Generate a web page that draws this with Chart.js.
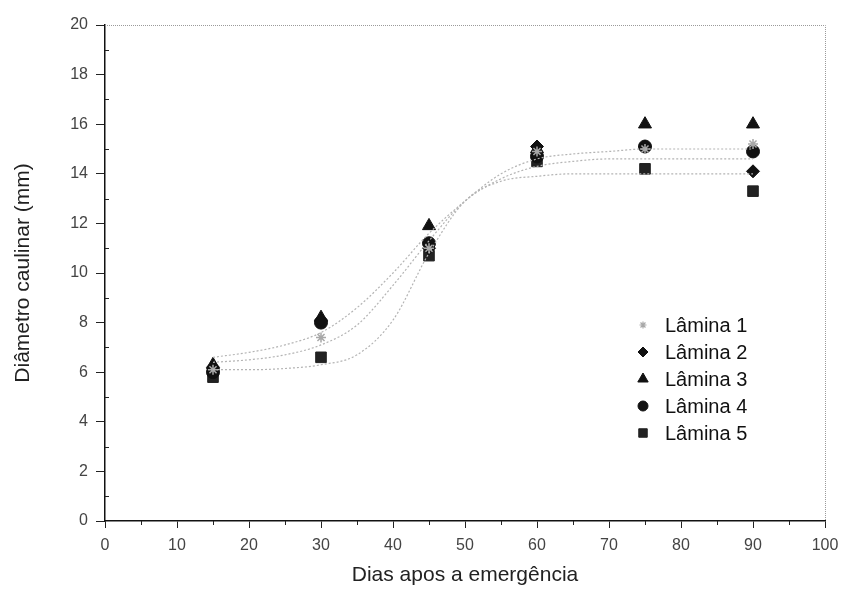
<!DOCTYPE html>
<html>
<head>
<meta charset="utf-8">
<script src="https://cdn.jsdelivr.net/npm/chart.js@4/dist/chart.umd.min.js"></script>
<style>
  html, body { margin: 0; padding: 0; background: #fff; }
  #wrap { width: 851px; height: 590px; }
</style>
</head>
<body>
<div id="wrap"><canvas id="myChart"></canvas></div>
<script>
/* Data */

const days = [15, 30, 45, 60, 75, 90];
const lamina1 = [6.1, 7.4, 11.0, 14.9, 15.0, 15.2];
const lamina2 = [6.2, 8.1, 11.0, 15.1, 15.1, 14.1];
const lamina3 = [6.3, 8.2, 11.9, 15.0, 16.0, 16.0];
const lamina4 = [6.0, 8.0, 11.2, 14.7, 15.1, 14.9];
const lamina5 = [5.8, 6.6, 10.7, 14.5, 14.2, 13.3];

// fitted curves, read at these days
const curveDays = [15, 20, 25, 30, 35, 40, 45, 50, 55, 60, 65, 70, 75, 80, 85, 90];
const curveUpper = [6.6, 6.8, 7.1, 7.6, 8.6, 10.0, 11.6, 12.9, 14.0, 14.6, 14.8, 14.9, 15.0, 15.0, 15.0, 15.0];
const curveMiddle = [6.4, 6.5, 6.7, 7.1, 7.9, 9.5, 11.3, 12.9, 13.8, 14.3, 14.5, 14.6, 14.6, 14.6, 14.6, 14.6];
const curveLower = [6.1, 6.1, 6.15, 6.3, 6.7, 8.1, 10.8, 12.9, 13.7, 13.9, 14.0, 14.0, 14.0, 14.0, 14.0, 14.0];

const xTicks = [0, 10, 20, 30, 40, 50, 60, 70, 80, 90, 100];
const yTicks = [0, 2, 4, 6, 8, 10, 12, 14, 16, 18, 20];
const xMinor = [5, 15, 25, 35, 45, 55, 65, 75, 85, 95];
const yMinor = [1, 3, 5, 7, 9, 11, 13, 15, 17, 19];

const FONT = '"Liberation Sans", Arial, sans-serif';

function pts(xs, ys) {
  return xs.map(function(x, i) { return {x: x, y: ys[i]}; });
}

function curve(ys) {
  return {
    type: 'line',
    data: pts(curveDays, ys),
    borderColor: '#b4b4b4',
    borderWidth: 1.2,
    borderDash: [2, 2],
    pointRadius: 0,
    cubicInterpolationMode: 'monotone',
    fill: false
  };
}

const markers = [
  {label: 'Lâmina 1', data: lamina1, style: 'star', radius: 5, color: '#a8a8a8'},
  {label: 'Lâmina 2', data: lamina2, style: 'rectRot', radius: 6.5, color: '#111'},
  {label: 'Lâmina 3', data: lamina3, style: 'triangle', radius: 7.5, color: '#111'},
  {label: 'Lâmina 4', data: lamina4, style: 'circle', radius: 6.5, color: '#111'},
  {label: 'Lâmina 5', data: lamina5, style: 'rect', radius: 7.5, color: '#222'}
];

const pointSets = markers.map(function(m) {
  return {
    type: 'scatter',
    label: m.label,
    data: pts(days, m.data),
    pointStyle: m.style,
    pointRadius: m.radius,
    pointBackgroundColor: m.color,
    pointBorderColor: m.color,
    pointBorderWidth: m.style == 'star' ? 1.5 : 1
  };
});

/* Plugins: frame, minor ticks and legend inside the plot */

const framePlugin = {
  id: 'frame',
  beforeDatasetsDraw: function(chart) {
    const a = chart.chartArea;
    const c = chart.ctx;
    const xs = chart.scales.x, ys = chart.scales.y;
    c.save();
    c.strokeStyle = '#9a9a9a';
    c.lineWidth = 1;
    c.setLineDash([1, 1]);
    c.beginPath();
    c.moveTo(a.left, a.top + 0.5);
    c.lineTo(a.right + 0.5, a.top + 0.5);
    c.lineTo(a.right + 0.5, a.bottom);
    c.stroke();
    c.setLineDash([]);
    c.strokeStyle = '#222';
    c.beginPath();
    xMinor.forEach(function(v) {
      const px = Math.round(xs.getPixelForValue(v)) + 0.5;
      c.moveTo(px, a.bottom);
      c.lineTo(px, a.bottom + 4);
    });
    yMinor.forEach(function(v) {
      const py = Math.round(ys.getPixelForValue(v)) + 0.5;
      c.moveTo(a.left, py);
      c.lineTo(a.left + 4, py);
    });
    c.stroke();
    c.restore();
  }
};

const legendPlugin = {
  id: 'innerLegend',
  afterDraw: function(chart) {
    const c = chart.ctx;
    const x0 = 643, y0 = 325, gap = 27;
    c.save();
    c.font = '20px ' + FONT;
    c.textBaseline = 'middle';
    markers.forEach(function(m, i) {
      const y = y0 + i * gap;
      c.fillStyle = m.color;
      c.strokeStyle = m.color;
      c.lineWidth = m.style == 'star' ? 1.2 : 1;
      Chart.helpers.drawPoint(c, {pointStyle: m.style, radius: m.radius - 1.5, rotation: 0, borderWidth: 1}, x0, y);
      c.fillStyle = '#111';
      c.fillText(m.label, 665, y + 1);
    });
    c.restore();
  }
};

let ctx = document.getElementById('myChart').getContext('2d');
// eslint-disable-next-line
let chart = new Chart(ctx, {
  data: {
    datasets: [curve(curveUpper), curve(curveMiddle), curve(curveLower)].concat(pointSets)
  },
  options: {
    responsive: true,
    maintainAspectRatio: false,
    animation: false,
    layout: {
      padding: {left: 0, top: 25, right: 26, bottom: 0}
    },
    plugins: {
      legend: {display: false},
      tooltip: {enabled: false}
    },
    scales: {
      x: {
        type: 'linear',
        min: 0,
        max: 100,
        afterBuildTicks: function(scale) {
          scale.ticks = xTicks.map(function(v) { return {value: v}; });
        },
        afterFit: function(scale) { scale.height = 69; },
        border: {color: '#111', width: 1.5},
        grid: {
          drawOnChartArea: false,
          tickLength: 7,
          color: '#222'
        },
        ticks: {
          color: '#444',
          padding: 8,
          maxRotation: 0,
          autoSkip: false,
          font: {family: FONT, size: 16}
        },
        title: {
          display: true,
          text: 'Dias apos a emergência',
          color: '#222',
          padding: {top: 4, bottom: 2},
          font: {family: FONT, size: 21}
        }
      },
      y: {
        type: 'linear',
        min: 0,
        max: 20,
        afterBuildTicks: function(scale) {
          scale.ticks = yTicks.map(function(v) { return {value: v}; });
        },
        afterFit: function(scale) { scale.width = 105; },
        border: {color: '#111', width: 1.5},
        grid: {
          drawOnChartArea: false,
          tickLength: 9,
          color: '#222'
        },
        ticks: {
          color: '#444',
          padding: 8,
          autoSkip: false,
          font: {family: FONT, size: 16}
        },
        title: {
          display: true,
          text: 'Diâmetro caulinar (mm)',
          color: '#222',
          padding: {top: 11, bottom: 0},
          font: {family: FONT, size: 21}
        }
      }
    }
  },
  plugins: [framePlugin, legendPlugin]
});
</script>
</body>
</html>
